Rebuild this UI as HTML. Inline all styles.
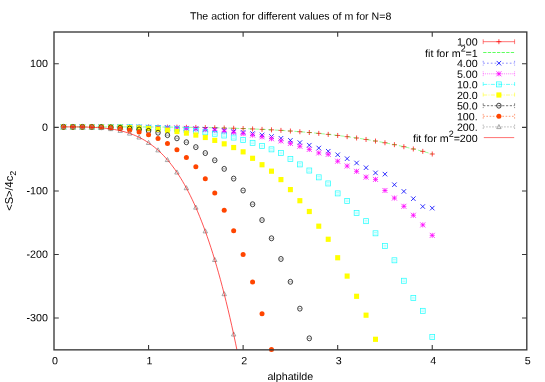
<!DOCTYPE html><html><head><meta charset="utf-8"><title>plot</title><style>
html,body{margin:0;padding:0;background:#fff;}svg{display:block}text{font-family:"Liberation Sans",sans-serif;font-size:10.7px;fill:#000}
</style></head><body>
<svg width="545" height="382" viewBox="0 0 545 382" style="will-change:transform">
<rect width="545" height="382" fill="#fff"/>
<defs>
<clipPath id="cp"><rect x="54.0" y="32.0" width="472.79999999999995" height="317.85"/></clipPath>
</defs>
<text transform="translate(290.60,19.60) rotate(0.03) scale(1,0.98)" text-anchor="middle" style="font-size:10.63px">The action for different values of m for N=8</text>
<text transform="translate(290.30,380.10) rotate(0.03) scale(1,0.98)" text-anchor="middle">alphatilde</text>
<text transform="translate(13.0,190.8) rotate(-90) scale(1.037,1)" text-anchor="middle">&lt;S&gt;/4c<tspan dy="3" style="font-size:8.6px">2</tspan></text>
<text transform="translate(47.90,67.08) rotate(0.03) scale(1,0.98)" text-anchor="end">100</text>
<text transform="translate(47.90,130.66) rotate(0.03) scale(1,0.98)" text-anchor="end">0</text>
<text transform="translate(47.90,194.23) rotate(0.03) scale(1,0.98)" text-anchor="end">-100</text>
<text transform="translate(47.90,257.80) rotate(0.03) scale(1,0.98)" text-anchor="end">-200</text>
<text transform="translate(47.90,321.37) rotate(0.03) scale(1,0.98)" text-anchor="end">-300</text>
<text transform="translate(55.00,364.20) rotate(0.03) scale(1,0.98)" text-anchor="middle">0</text>
<text transform="translate(149.56,364.20) rotate(0.03) scale(1,0.98)" text-anchor="middle">1</text>
<text transform="translate(244.12,364.20) rotate(0.03) scale(1,0.98)" text-anchor="middle">2</text>
<text transform="translate(338.68,364.20) rotate(0.03) scale(1,0.98)" text-anchor="middle">3</text>
<text transform="translate(433.24,364.20) rotate(0.03) scale(1,0.98)" text-anchor="middle">4</text>
<text transform="translate(527.80,364.20) rotate(0.03) scale(1,0.98)" text-anchor="middle">5</text>
<g>
<path d="M60.96 126.88H65.96M63.46 124.38V129.38" stroke="#ff0000" stroke-width="0.9" fill="none" stroke-opacity="0.8"/>
<path d="M70.41 126.88H75.41M72.91 124.38V129.38" stroke="#ff0000" stroke-width="0.9" fill="none" stroke-opacity="0.8"/>
<path d="M79.87 126.88H84.87M82.37 124.38V129.38" stroke="#ff0000" stroke-width="0.9" fill="none" stroke-opacity="0.8"/>
<path d="M89.32 126.88H94.32M91.82 124.38V129.38" stroke="#ff0000" stroke-width="0.9" fill="none" stroke-opacity="0.8"/>
<path d="M98.78 126.88H103.78M101.28 124.38V129.38" stroke="#ff0000" stroke-width="0.9" fill="none" stroke-opacity="0.8"/>
<path d="M108.24 126.89H113.24M110.74 124.39V129.39" stroke="#ff0000" stroke-width="0.9" fill="none" stroke-opacity="0.8"/>
<path d="M117.69 126.90H122.69M120.19 124.40V129.40" stroke="#ff0000" stroke-width="0.9" fill="none" stroke-opacity="0.8"/>
<path d="M127.15 126.92H132.15M129.65 124.42V129.42" stroke="#ff0000" stroke-width="0.9" fill="none" stroke-opacity="0.8"/>
<path d="M136.60 126.95H141.60M139.10 124.45V129.45" stroke="#ff0000" stroke-width="0.9" fill="none" stroke-opacity="0.8"/>
<path d="M146.06 126.98H151.06M148.56 124.48V129.48" stroke="#ff0000" stroke-width="0.9" fill="none" stroke-opacity="0.8"/>
<path d="M155.52 127.03H160.52M158.02 124.53V129.53" stroke="#ff0000" stroke-width="0.9" fill="none" stroke-opacity="0.8"/>
<path d="M164.97 127.10H169.97M167.47 124.60V129.60" stroke="#ff0000" stroke-width="0.9" fill="none" stroke-opacity="0.8"/>
<path d="M174.43 127.18H179.43M176.93 124.68V129.68" stroke="#ff0000" stroke-width="0.9" fill="none" stroke-opacity="0.8"/>
<path d="M183.88 127.29H188.88M186.38 124.79V129.79" stroke="#ff0000" stroke-width="0.9" fill="none" stroke-opacity="0.8"/>
<path d="M193.34 127.41H198.34M195.84 124.91V129.91" stroke="#ff0000" stroke-width="0.9" fill="none" stroke-opacity="0.8"/>
<path d="M202.80 127.57H207.80M205.30 125.07V130.07" stroke="#ff0000" stroke-width="0.9" fill="none" stroke-opacity="0.8"/>
<path d="M212.25 127.76H217.25M214.75 125.26V130.26" stroke="#ff0000" stroke-width="0.9" fill="none" stroke-opacity="0.8"/>
<path d="M221.71 127.99H226.71M224.21 125.49V130.49" stroke="#ff0000" stroke-width="0.9" fill="none" stroke-opacity="0.8"/>
<path d="M231.16 128.26H236.16M233.66 125.76V130.76" stroke="#ff0000" stroke-width="0.9" fill="none" stroke-opacity="0.8"/>
<path d="M240.62 128.57H245.62M243.12 126.07V131.07" stroke="#ff0000" stroke-width="0.9" fill="none" stroke-opacity="0.8"/>
<path d="M250.08 128.94H255.08M252.58 126.44V131.44" stroke="#ff0000" stroke-width="0.9" fill="none" stroke-opacity="0.8"/>
<path d="M259.53 129.36H264.53M262.03 126.86V131.86" stroke="#ff0000" stroke-width="0.9" fill="none" stroke-opacity="0.8"/>
<path d="M268.99 129.84H273.99M271.49 127.34V132.34" stroke="#ff0000" stroke-width="0.9" fill="none" stroke-opacity="0.8"/>
<path d="M278.44 130.39H283.44M280.94 127.89V132.89" stroke="#ff0000" stroke-width="0.9" fill="none" stroke-opacity="0.8"/>
<path d="M287.90 131.02H292.90M290.40 128.52V133.52" stroke="#ff0000" stroke-width="0.9" fill="none" stroke-opacity="0.8"/>
<path d="M297.36 131.72H302.36M299.86 129.22V134.22" stroke="#ff0000" stroke-width="0.9" fill="none" stroke-opacity="0.8"/>
<path d="M306.81 132.51H311.81M309.31 130.01V135.01" stroke="#ff0000" stroke-width="0.9" fill="none" stroke-opacity="0.8"/>
<path d="M316.27 133.39H321.27M318.77 130.89V135.89" stroke="#ff0000" stroke-width="0.9" fill="none" stroke-opacity="0.8"/>
<path d="M325.72 134.37H330.72M328.22 131.87V136.87" stroke="#ff0000" stroke-width="0.9" fill="none" stroke-opacity="0.8"/>
<path d="M335.18 135.46H340.18M337.68 132.96V137.96" stroke="#ff0000" stroke-width="0.9" fill="none" stroke-opacity="0.8"/>
<path d="M344.64 136.66H349.64M347.14 134.16V139.16" stroke="#ff0000" stroke-width="0.9" fill="none" stroke-opacity="0.8"/>
<path d="M354.09 137.99H359.09M356.59 135.49V140.49" stroke="#ff0000" stroke-width="0.9" fill="none" stroke-opacity="0.8"/>
<path d="M363.55 139.44H368.55M366.05 136.94V141.94" stroke="#ff0000" stroke-width="0.9" fill="none" stroke-opacity="0.8"/>
<path d="M373.00 141.04H378.00M375.50 138.54V143.54" stroke="#ff0000" stroke-width="0.9" fill="none" stroke-opacity="0.8"/>
<path d="M382.46 142.78H387.46M384.96 140.28V145.28" stroke="#ff0000" stroke-width="0.9" fill="none" stroke-opacity="0.8"/>
<path d="M391.92 144.67H396.92M394.42 142.17V147.17" stroke="#ff0000" stroke-width="0.9" fill="none" stroke-opacity="0.8"/>
<path d="M401.37 146.73H406.37M403.87 144.23V149.23" stroke="#ff0000" stroke-width="0.9" fill="none" stroke-opacity="0.8"/>
<path d="M410.83 148.97H415.83M413.33 146.47V151.47" stroke="#ff0000" stroke-width="0.9" fill="none" stroke-opacity="0.8"/>
<path d="M420.28 151.39H425.28M422.78 148.89V153.89" stroke="#ff0000" stroke-width="0.9" fill="none" stroke-opacity="0.8"/>
<path d="M429.74 154.00H434.74M432.24 151.50V156.50" stroke="#ff0000" stroke-width="0.9" fill="none" stroke-opacity="0.8"/>
<path clip-path="url(#cp)" d="M63.46 126.88L65.35 126.88L67.24 126.88L69.13 126.88L71.02 126.88L72.91 126.88L74.80 126.88L76.69 126.88L78.59 126.88L80.48 126.88L82.37 126.88L84.26 126.88L86.15 126.88L88.04 126.88L89.93 126.88L91.82 126.88L93.72 126.88L95.61 126.88L97.50 126.88L99.39 126.88L101.28 126.88L103.17 126.89L105.06 126.89L106.95 126.89L108.84 126.89L110.74 126.89L112.63 126.89L114.52 126.90L116.41 126.90L118.30 126.90L120.19 126.90L122.08 126.91L123.97 126.91L125.87 126.91L127.76 126.92L129.65 126.92L131.54 126.93L133.43 126.93L135.32 126.94L137.21 126.94L139.10 126.95L141.00 126.95L142.89 126.96L144.78 126.97L146.67 126.98L148.56 126.98L150.45 126.99L152.34 127.00L154.23 127.01L156.12 127.02L158.02 127.03L159.91 127.04L161.80 127.06L163.69 127.07L165.58 127.08L167.47 127.10L169.36 127.11L171.25 127.13L173.15 127.15L175.04 127.16L176.93 127.18L178.82 127.20L180.71 127.22L182.60 127.24L184.49 127.26L186.38 127.29L188.28 127.31L190.17 127.33L192.06 127.36L193.95 127.39L195.84 127.41L197.73 127.44L199.62 127.47L201.51 127.51L203.40 127.54L205.30 127.57L207.19 127.61L209.08 127.64L210.97 127.68L212.86 127.72L214.75 127.76L216.64 127.81L218.53 127.85L220.43 127.89L222.32 127.94L224.21 127.99L226.10 128.04L227.99 128.09L229.88 128.15L231.77 128.20L233.66 128.26L235.56 128.32L237.45 128.38L239.34 128.44L241.23 128.51L243.12 128.57L245.01 128.64L246.90 128.71L248.79 128.79L250.68 128.86L252.58 128.94L254.47 129.02L256.36 129.10L258.25 129.18L260.14 129.27L262.03 129.36L263.92 129.45L265.81 129.55L267.71 129.64L269.60 129.74L271.49 129.84L273.38 129.95L275.27 130.05L277.16 130.16L279.05 130.28L280.94 130.39L282.84 130.51L284.73 130.63L286.62 130.76L288.51 130.89L290.40 131.02L292.29 131.15L294.18 131.29L296.07 131.43L297.96 131.57L299.86 131.72L301.75 131.87L303.64 132.02L305.53 132.18L307.42 132.34L309.31 132.51L311.20 132.68L313.09 132.85L314.99 133.03L316.88 133.21L318.77 133.39L320.66 133.58L322.55 133.77L324.44 133.97L326.33 134.17L328.22 134.37L330.12 134.58L332.01 134.79L333.90 135.01L335.79 135.23L337.68 135.46L339.57 135.69L341.46 135.93L343.35 136.17L345.24 136.41L347.14 136.66L349.03 136.92L350.92 137.18L352.81 137.44L354.70 137.71L356.59 137.99L358.48 138.27L360.37 138.55L362.27 138.84L364.16 139.14L366.05 139.44L367.94 139.75L369.83 140.06L371.72 140.38L373.61 140.71L375.50 141.04L377.40 141.37L379.29 141.71L381.18 142.06L383.07 142.42L384.96 142.78L386.85 143.14L388.74 143.52L390.63 143.90L392.52 144.28L394.42 144.67L396.31 145.07L398.20 145.48L400.09 145.89L401.98 146.31L403.87 146.73L405.76 147.17L407.65 147.61L409.55 148.05L411.44 148.51L413.33 148.97L415.22 149.44L417.11 149.92L419.00 150.40L420.89 150.89L422.78 151.39L424.68 151.90L426.57 152.41L428.46 152.93L430.35 153.46L432.24 154.00" stroke="#00ff00" stroke-width="0.85" fill="none" stroke-dasharray="4.2 2.4" stroke-opacity="0.5"/>
<path d="M61.21 124.63L65.71 129.13M61.21 129.13L65.71 124.63" stroke="#0000ff" stroke-width="0.98" fill="none" stroke-opacity="0.82"/>
<path d="M70.66 124.63L75.16 129.13M70.66 129.13L75.16 124.63" stroke="#0000ff" stroke-width="0.98" fill="none" stroke-opacity="0.82"/>
<path d="M80.12 124.63L84.62 129.13M80.12 129.13L84.62 124.63" stroke="#0000ff" stroke-width="0.98" fill="none" stroke-opacity="0.82"/>
<path d="M89.57 124.64L94.07 129.14M89.57 129.14L94.07 124.64" stroke="#0000ff" stroke-width="0.98" fill="none" stroke-opacity="0.82"/>
<path d="M99.03 124.65L103.53 129.15M99.03 129.15L103.53 124.65" stroke="#0000ff" stroke-width="0.98" fill="none" stroke-opacity="0.82"/>
<path d="M108.49 124.67L112.99 129.17M108.49 129.17L112.99 124.67" stroke="#0000ff" stroke-width="0.98" fill="none" stroke-opacity="0.82"/>
<path d="M117.94 124.71L122.44 129.21M117.94 129.21L122.44 124.71" stroke="#0000ff" stroke-width="0.98" fill="none" stroke-opacity="0.82"/>
<path d="M127.40 124.77L131.90 129.27M127.40 129.27L131.90 124.77" stroke="#0000ff" stroke-width="0.98" fill="none" stroke-opacity="0.82"/>
<path d="M136.85 124.85L141.35 129.35M136.85 129.35L141.35 124.85" stroke="#0000ff" stroke-width="0.98" fill="none" stroke-opacity="0.82"/>
<path d="M146.31 124.97L150.81 129.47M146.31 129.47L150.81 124.97" stroke="#0000ff" stroke-width="0.98" fill="none" stroke-opacity="0.82"/>
<path d="M155.77 125.13L160.27 129.63M155.77 129.63L160.27 125.13" stroke="#0000ff" stroke-width="0.98" fill="none" stroke-opacity="0.82"/>
<path d="M165.22 125.34L169.72 129.84M165.22 129.84L169.72 125.34" stroke="#0000ff" stroke-width="0.98" fill="none" stroke-opacity="0.82"/>
<path d="M174.68 125.61L179.18 130.11M174.68 130.11L179.18 125.61" stroke="#0000ff" stroke-width="0.98" fill="none" stroke-opacity="0.82"/>
<path d="M184.13 125.95L188.63 130.45M184.13 130.45L188.63 125.95" stroke="#0000ff" stroke-width="0.98" fill="none" stroke-opacity="0.82"/>
<path d="M193.59 126.37L198.09 130.87M193.59 130.87L198.09 126.37" stroke="#0000ff" stroke-width="0.98" fill="none" stroke-opacity="0.82"/>
<path d="M203.05 126.88L207.55 131.38M203.05 131.38L207.55 126.88" stroke="#0000ff" stroke-width="0.98" fill="none" stroke-opacity="0.82"/>
<path d="M212.50 127.50L217.00 132.00M212.50 132.00L217.00 127.50" stroke="#0000ff" stroke-width="0.98" fill="none" stroke-opacity="0.82"/>
<path d="M221.96 128.24L226.46 132.74M221.96 132.74L226.46 128.24" stroke="#0000ff" stroke-width="0.98" fill="none" stroke-opacity="0.82"/>
<path d="M231.41 129.12L235.91 133.62M231.41 133.62L235.91 129.12" stroke="#0000ff" stroke-width="0.98" fill="none" stroke-opacity="0.82"/>
<path d="M240.87 130.14L245.37 134.64M240.87 134.64L245.37 130.14" stroke="#0000ff" stroke-width="0.98" fill="none" stroke-opacity="0.82"/>
<path d="M250.33 131.32L254.83 135.82M250.33 135.82L254.83 131.32" stroke="#0000ff" stroke-width="0.98" fill="none" stroke-opacity="0.82"/>
<path d="M259.78 132.69L264.28 137.19M259.78 137.19L264.28 132.69" stroke="#0000ff" stroke-width="0.98" fill="none" stroke-opacity="0.82"/>
<path d="M269.24 134.26L273.74 138.76M269.24 138.76L273.74 134.26" stroke="#0000ff" stroke-width="0.98" fill="none" stroke-opacity="0.82"/>
<path d="M278.69 136.05L283.19 140.55M278.69 140.55L283.19 136.05" stroke="#0000ff" stroke-width="0.98" fill="none" stroke-opacity="0.82"/>
<path d="M288.15 138.08L292.65 142.58M288.15 142.58L292.65 138.08" stroke="#0000ff" stroke-width="0.98" fill="none" stroke-opacity="0.82"/>
<path d="M297.61 140.36L302.11 144.86M297.61 144.86L302.11 140.36" stroke="#0000ff" stroke-width="0.98" fill="none" stroke-opacity="0.82"/>
<path d="M307.06 142.93L311.56 147.43M307.06 147.43L311.56 142.93" stroke="#0000ff" stroke-width="0.98" fill="none" stroke-opacity="0.82"/>
<path d="M316.52 145.79L321.02 150.29M316.52 150.29L321.02 145.79" stroke="#0000ff" stroke-width="0.98" fill="none" stroke-opacity="0.82"/>
<path d="M325.97 148.98L330.47 153.48M325.97 153.48L330.47 148.98" stroke="#0000ff" stroke-width="0.98" fill="none" stroke-opacity="0.82"/>
<path d="M335.43 152.52L339.93 157.02M335.43 157.02L339.93 152.52" stroke="#0000ff" stroke-width="0.98" fill="none" stroke-opacity="0.82"/>
<path d="M344.89 156.43L349.39 160.93M344.89 160.93L349.39 156.43" stroke="#0000ff" stroke-width="0.98" fill="none" stroke-opacity="0.82"/>
<path d="M354.34 160.73L358.84 165.23M354.34 165.23L358.84 160.73" stroke="#0000ff" stroke-width="0.98" fill="none" stroke-opacity="0.82"/>
<path d="M363.80 165.46L368.30 169.96M363.80 169.96L368.30 165.46" stroke="#0000ff" stroke-width="0.98" fill="none" stroke-opacity="0.82"/>
<path d="M373.25 170.64L377.75 175.14M373.25 175.14L377.75 170.64" stroke="#0000ff" stroke-width="0.98" fill="none" stroke-opacity="0.82"/>
<path d="M382.71 171.90L387.21 176.40M382.71 176.40L387.21 171.90" stroke="#0000ff" stroke-width="0.98" fill="none" stroke-opacity="0.82"/>
<path d="M392.17 182.46L396.67 186.96M392.17 186.96L396.67 182.46" stroke="#0000ff" stroke-width="0.98" fill="none" stroke-opacity="0.82"/>
<path d="M401.62 189.16L406.12 193.66M401.62 193.66L406.12 189.16" stroke="#0000ff" stroke-width="0.98" fill="none" stroke-opacity="0.82"/>
<path d="M411.08 196.43L415.58 200.93M411.08 200.93L415.58 196.43" stroke="#0000ff" stroke-width="0.98" fill="none" stroke-opacity="0.82"/>
<path d="M420.53 204.29L425.03 208.79M420.53 208.79L425.03 204.29" stroke="#0000ff" stroke-width="0.98" fill="none" stroke-opacity="0.82"/>
<path d="M429.99 205.88L434.49 210.38M429.99 210.38L434.49 205.88" stroke="#0000ff" stroke-width="0.98" fill="none" stroke-opacity="0.82"/>
<path d="M60.96 124.38L65.96 129.38M60.96 129.38L65.96 124.38M60.96 126.88H65.96M63.46 124.38V129.38" stroke="#ff00ff" stroke-width="0.9" fill="none" stroke-opacity="0.85"/>
<path d="M70.41 124.38L75.41 129.38M70.41 129.38L75.41 124.38M70.41 126.88H75.41M72.91 124.38V129.38" stroke="#ff00ff" stroke-width="0.9" fill="none" stroke-opacity="0.85"/>
<path d="M79.87 124.38L84.87 129.38M79.87 129.38L84.87 124.38M79.87 126.88H84.87M82.37 124.38V129.38" stroke="#ff00ff" stroke-width="0.9" fill="none" stroke-opacity="0.85"/>
<path d="M89.32 124.39L94.32 129.39M89.32 129.39L94.32 124.39M89.32 126.89H94.32M91.82 124.39V129.39" stroke="#ff00ff" stroke-width="0.9" fill="none" stroke-opacity="0.85"/>
<path d="M98.78 124.40L103.78 129.40M98.78 129.40L103.78 124.40M98.78 126.90H103.78M101.28 124.40V129.40" stroke="#ff00ff" stroke-width="0.9" fill="none" stroke-opacity="0.85"/>
<path d="M108.24 124.43L113.24 129.43M108.24 129.43L113.24 124.43M108.24 126.93H113.24M110.74 124.43V129.43" stroke="#ff00ff" stroke-width="0.9" fill="none" stroke-opacity="0.85"/>
<path d="M117.69 124.48L122.69 129.48M117.69 129.48L122.69 124.48M117.69 126.98H122.69M120.19 124.48V129.48" stroke="#ff00ff" stroke-width="0.9" fill="none" stroke-opacity="0.85"/>
<path d="M127.15 124.55L132.15 129.55M127.15 129.55L132.15 124.55M127.15 127.05H132.15M129.65 124.55V129.55" stroke="#ff00ff" stroke-width="0.9" fill="none" stroke-opacity="0.85"/>
<path d="M136.60 124.66L141.60 129.66M136.60 129.66L141.60 124.66M136.60 127.16H141.60M139.10 124.66V129.66" stroke="#ff00ff" stroke-width="0.9" fill="none" stroke-opacity="0.85"/>
<path d="M146.06 124.80L151.06 129.80M146.06 129.80L151.06 124.80M146.06 127.30H151.06M148.56 124.80V129.80" stroke="#ff00ff" stroke-width="0.9" fill="none" stroke-opacity="0.85"/>
<path d="M155.52 125.00L160.52 130.00M155.52 130.00L160.52 125.00M155.52 127.50H160.52M158.02 125.00V130.00" stroke="#ff00ff" stroke-width="0.9" fill="none" stroke-opacity="0.85"/>
<path d="M164.97 125.26L169.97 130.26M164.97 130.26L169.97 125.26M164.97 127.76H169.97M167.47 125.26V130.26" stroke="#ff00ff" stroke-width="0.9" fill="none" stroke-opacity="0.85"/>
<path d="M174.43 125.59L179.43 130.59M174.43 130.59L179.43 125.59M174.43 128.09H179.43M176.93 125.59V130.59" stroke="#ff00ff" stroke-width="0.9" fill="none" stroke-opacity="0.85"/>
<path d="M183.88 126.01L188.88 131.01M183.88 131.01L188.88 126.01M183.88 128.51H188.88M186.38 126.01V131.01" stroke="#ff00ff" stroke-width="0.9" fill="none" stroke-opacity="0.85"/>
<path d="M193.34 126.52L198.34 131.52M193.34 131.52L198.34 126.52M193.34 129.02H198.34M195.84 126.52V131.52" stroke="#ff00ff" stroke-width="0.9" fill="none" stroke-opacity="0.85"/>
<path d="M202.80 127.16L207.80 132.16M202.80 132.16L207.80 127.16M202.80 129.66H207.80M205.30 127.16V132.16" stroke="#ff00ff" stroke-width="0.9" fill="none" stroke-opacity="0.85"/>
<path d="M212.25 127.92L217.25 132.92M212.25 132.92L217.25 127.92M212.25 130.42H217.25M214.75 127.92V132.92" stroke="#ff00ff" stroke-width="0.9" fill="none" stroke-opacity="0.85"/>
<path d="M221.71 128.83L226.71 133.83M221.71 133.83L226.71 128.83M221.71 131.33H226.71M224.21 128.83V133.83" stroke="#ff00ff" stroke-width="0.9" fill="none" stroke-opacity="0.85"/>
<path d="M231.16 129.90L236.16 134.90M231.16 134.90L236.16 129.90M231.16 132.40H236.16M233.66 129.90V134.90" stroke="#ff00ff" stroke-width="0.9" fill="none" stroke-opacity="0.85"/>
<path d="M240.62 131.16L245.62 136.16M240.62 136.16L245.62 131.16M240.62 133.66H245.62M243.12 131.16V136.16" stroke="#ff00ff" stroke-width="0.9" fill="none" stroke-opacity="0.85"/>
<path d="M250.08 132.62L255.08 137.62M250.08 137.62L255.08 132.62M250.08 135.12H255.08M252.58 132.62V137.62" stroke="#ff00ff" stroke-width="0.9" fill="none" stroke-opacity="0.85"/>
<path d="M259.53 134.31L264.53 139.31M259.53 139.31L264.53 134.31M259.53 136.81H264.53M262.03 134.31V139.31" stroke="#ff00ff" stroke-width="0.9" fill="none" stroke-opacity="0.85"/>
<path d="M268.99 136.24L273.99 141.24M268.99 141.24L273.99 136.24M268.99 138.74H273.99M271.49 136.24V141.24" stroke="#ff00ff" stroke-width="0.9" fill="none" stroke-opacity="0.85"/>
<path d="M278.44 138.44L283.44 143.44M278.44 143.44L283.44 138.44M278.44 140.94H283.44M280.94 138.44V143.44" stroke="#ff00ff" stroke-width="0.9" fill="none" stroke-opacity="0.85"/>
<path d="M287.90 140.93L292.90 145.93M287.90 145.93L292.90 140.93M287.90 143.43H292.90M290.40 140.93V145.93" stroke="#ff00ff" stroke-width="0.9" fill="none" stroke-opacity="0.85"/>
<path d="M297.36 143.74L302.36 148.74M297.36 148.74L302.36 143.74M297.36 146.24H302.36M299.86 143.74V148.74" stroke="#ff00ff" stroke-width="0.9" fill="none" stroke-opacity="0.85"/>
<path d="M306.81 146.90L311.81 151.90M306.81 151.90L311.81 146.90M306.81 149.40H311.81M309.31 146.90V151.90" stroke="#ff00ff" stroke-width="0.9" fill="none" stroke-opacity="0.85"/>
<path d="M316.27 150.43L321.27 155.43M316.27 155.43L321.27 150.43M316.27 152.93H321.27M318.77 150.43V155.43" stroke="#ff00ff" stroke-width="0.9" fill="none" stroke-opacity="0.85"/>
<path d="M325.72 151.85L330.72 156.85M325.72 156.85L330.72 151.85M325.72 154.35H330.72M328.22 151.85V156.85" stroke="#ff00ff" stroke-width="0.9" fill="none" stroke-opacity="0.85"/>
<path d="M335.18 158.71L340.18 163.71M335.18 163.71L340.18 158.71M335.18 161.21H340.18M337.68 158.71V163.71" stroke="#ff00ff" stroke-width="0.9" fill="none" stroke-opacity="0.85"/>
<path d="M344.64 163.52L349.64 168.52M344.64 168.52L349.64 163.52M344.64 166.02H349.64M347.14 163.52V168.52" stroke="#ff00ff" stroke-width="0.9" fill="none" stroke-opacity="0.85"/>
<path d="M354.09 168.82L359.09 173.82M354.09 173.82L359.09 168.82M354.09 171.32H359.09M356.59 168.82V173.82" stroke="#ff00ff" stroke-width="0.9" fill="none" stroke-opacity="0.85"/>
<path d="M363.55 174.64L368.55 179.64M363.55 179.64L368.55 174.64M363.55 177.14H368.55M366.05 174.64V179.64" stroke="#ff00ff" stroke-width="0.9" fill="none" stroke-opacity="0.85"/>
<path d="M373.00 176.91L378.00 181.91M373.00 181.91L378.00 176.91M373.00 179.41H378.00M375.50 176.91V181.91" stroke="#ff00ff" stroke-width="0.9" fill="none" stroke-opacity="0.85"/>
<path d="M382.46 187.97L387.46 192.97M382.46 192.97L387.46 187.97M382.46 190.47H387.46M384.96 187.97V192.97" stroke="#ff00ff" stroke-width="0.9" fill="none" stroke-opacity="0.85"/>
<path d="M391.92 195.56L396.92 200.56M391.92 200.56L396.92 195.56M391.92 198.06H396.92M394.42 195.56V200.56" stroke="#ff00ff" stroke-width="0.9" fill="none" stroke-opacity="0.85"/>
<path d="M401.37 203.81L406.37 208.81M401.37 208.81L406.37 203.81M401.37 206.31H406.37M403.87 203.81V208.81" stroke="#ff00ff" stroke-width="0.9" fill="none" stroke-opacity="0.85"/>
<path d="M410.83 212.75L415.83 217.75M410.83 217.75L415.83 212.75M410.83 215.25H415.83M413.33 212.75V217.75" stroke="#ff00ff" stroke-width="0.9" fill="none" stroke-opacity="0.85"/>
<path d="M420.28 222.42L425.28 227.42M420.28 227.42L425.28 222.42M420.28 224.92H425.28M422.78 222.42V227.42" stroke="#ff00ff" stroke-width="0.9" fill="none" stroke-opacity="0.85"/>
<path d="M429.74 232.87L434.74 237.87M429.74 237.87L434.74 232.87M429.74 235.37H434.74M432.24 232.87V237.87" stroke="#ff00ff" stroke-width="0.9" fill="none" stroke-opacity="0.85"/>
<rect x="61.06" y="124.38" width="4.8" height="5" stroke="#00ffff" stroke-width="0.75" fill="none" stroke-opacity="0.85"/><path d="M61.96 126.08h3M61.96 127.68h3" stroke="#00ffff" stroke-width="0.45" stroke-opacity="0.7"/>
<rect x="70.51" y="124.38" width="4.8" height="5" stroke="#00ffff" stroke-width="0.75" fill="none" stroke-opacity="0.85"/><path d="M71.41 126.08h3M71.41 127.68h3" stroke="#00ffff" stroke-width="0.45" stroke-opacity="0.7"/>
<rect x="79.97" y="124.38" width="4.8" height="5" stroke="#00ffff" stroke-width="0.75" fill="none" stroke-opacity="0.85"/><path d="M80.87 126.08h3M80.87 127.68h3" stroke="#00ffff" stroke-width="0.45" stroke-opacity="0.7"/>
<rect x="89.42" y="124.40" width="4.8" height="5" stroke="#00ffff" stroke-width="0.75" fill="none" stroke-opacity="0.85"/><path d="M90.32 126.10h3M90.32 127.70h3" stroke="#00ffff" stroke-width="0.45" stroke-opacity="0.7"/>
<rect x="98.88" y="124.43" width="4.8" height="5" stroke="#00ffff" stroke-width="0.75" fill="none" stroke-opacity="0.85"/><path d="M99.78 126.13h3M99.78 127.73h3" stroke="#00ffff" stroke-width="0.45" stroke-opacity="0.7"/>
<rect x="108.34" y="124.48" width="4.8" height="5" stroke="#00ffff" stroke-width="0.75" fill="none" stroke-opacity="0.85"/><path d="M109.24 126.18h3M109.24 127.78h3" stroke="#00ffff" stroke-width="0.45" stroke-opacity="0.7"/>
<rect x="117.79" y="124.58" width="4.8" height="5" stroke="#00ffff" stroke-width="0.75" fill="none" stroke-opacity="0.85"/><path d="M118.69 126.28h3M118.69 127.88h3" stroke="#00ffff" stroke-width="0.45" stroke-opacity="0.7"/>
<rect x="127.25" y="124.71" width="4.8" height="5" stroke="#00ffff" stroke-width="0.75" fill="none" stroke-opacity="0.85"/><path d="M128.15 126.41h3M128.15 128.01h3" stroke="#00ffff" stroke-width="0.45" stroke-opacity="0.7"/>
<rect x="136.70" y="124.92" width="4.8" height="5" stroke="#00ffff" stroke-width="0.75" fill="none" stroke-opacity="0.85"/><path d="M137.60 126.62h3M137.60 128.22h3" stroke="#00ffff" stroke-width="0.45" stroke-opacity="0.7"/>
<rect x="146.16" y="125.20" width="4.8" height="5" stroke="#00ffff" stroke-width="0.75" fill="none" stroke-opacity="0.85"/><path d="M147.06 126.90h3M147.06 128.50h3" stroke="#00ffff" stroke-width="0.45" stroke-opacity="0.7"/>
<rect x="155.62" y="125.58" width="4.8" height="5" stroke="#00ffff" stroke-width="0.75" fill="none" stroke-opacity="0.85"/><path d="M156.52 127.28h3M156.52 128.88h3" stroke="#00ffff" stroke-width="0.45" stroke-opacity="0.7"/>
<rect x="165.07" y="126.08" width="4.8" height="5" stroke="#00ffff" stroke-width="0.75" fill="none" stroke-opacity="0.85"/><path d="M165.97 127.78h3M165.97 129.38h3" stroke="#00ffff" stroke-width="0.45" stroke-opacity="0.7"/>
<rect x="174.53" y="126.72" width="4.8" height="5" stroke="#00ffff" stroke-width="0.75" fill="none" stroke-opacity="0.85"/><path d="M175.43 128.42h3M175.43 130.02h3" stroke="#00ffff" stroke-width="0.45" stroke-opacity="0.7"/>
<rect x="183.98" y="127.53" width="4.8" height="5" stroke="#00ffff" stroke-width="0.75" fill="none" stroke-opacity="0.85"/><path d="M184.88 129.23h3M184.88 130.83h3" stroke="#00ffff" stroke-width="0.45" stroke-opacity="0.7"/>
<rect x="193.44" y="128.54" width="4.8" height="5" stroke="#00ffff" stroke-width="0.75" fill="none" stroke-opacity="0.85"/><path d="M194.34 130.24h3M194.34 131.84h3" stroke="#00ffff" stroke-width="0.45" stroke-opacity="0.7"/>
<rect x="202.90" y="129.76" width="4.8" height="5" stroke="#00ffff" stroke-width="0.75" fill="none" stroke-opacity="0.85"/><path d="M203.80 131.46h3M203.80 133.06h3" stroke="#00ffff" stroke-width="0.45" stroke-opacity="0.7"/>
<rect x="212.35" y="131.24" width="4.8" height="5" stroke="#00ffff" stroke-width="0.75" fill="none" stroke-opacity="0.85"/><path d="M213.25 132.94h3M213.25 134.54h3" stroke="#00ffff" stroke-width="0.45" stroke-opacity="0.7"/>
<rect x="221.81" y="133.00" width="4.8" height="5" stroke="#00ffff" stroke-width="0.75" fill="none" stroke-opacity="0.85"/><path d="M222.71 134.70h3M222.71 136.30h3" stroke="#00ffff" stroke-width="0.45" stroke-opacity="0.7"/>
<rect x="231.26" y="135.08" width="4.8" height="5" stroke="#00ffff" stroke-width="0.75" fill="none" stroke-opacity="0.85"/><path d="M232.16 136.78h3M232.16 138.38h3" stroke="#00ffff" stroke-width="0.45" stroke-opacity="0.7"/>
<rect x="240.72" y="137.52" width="4.8" height="5" stroke="#00ffff" stroke-width="0.75" fill="none" stroke-opacity="0.85"/><path d="M241.62 139.22h3M241.62 140.82h3" stroke="#00ffff" stroke-width="0.45" stroke-opacity="0.7"/>
<rect x="250.18" y="140.35" width="4.8" height="5" stroke="#00ffff" stroke-width="0.75" fill="none" stroke-opacity="0.85"/><path d="M251.08 142.05h3M251.08 143.65h3" stroke="#00ffff" stroke-width="0.45" stroke-opacity="0.7"/>
<rect x="259.63" y="143.61" width="4.8" height="5" stroke="#00ffff" stroke-width="0.75" fill="none" stroke-opacity="0.85"/><path d="M260.53 145.31h3M260.53 146.91h3" stroke="#00ffff" stroke-width="0.45" stroke-opacity="0.7"/>
<rect x="269.09" y="146.86" width="4.8" height="5" stroke="#00ffff" stroke-width="0.75" fill="none" stroke-opacity="0.85"/><path d="M269.99 148.56h3M269.99 150.16h3" stroke="#00ffff" stroke-width="0.45" stroke-opacity="0.7"/>
<rect x="278.54" y="150.52" width="4.8" height="5" stroke="#00ffff" stroke-width="0.75" fill="none" stroke-opacity="0.85"/><path d="M279.44 152.22h3M279.44 153.82h3" stroke="#00ffff" stroke-width="0.45" stroke-opacity="0.7"/>
<rect x="288.00" y="156.45" width="4.8" height="5" stroke="#00ffff" stroke-width="0.75" fill="none" stroke-opacity="0.85"/><path d="M288.90 158.15h3M288.90 159.75h3" stroke="#00ffff" stroke-width="0.45" stroke-opacity="0.7"/>
<rect x="297.46" y="161.90" width="4.8" height="5" stroke="#00ffff" stroke-width="0.75" fill="none" stroke-opacity="0.85"/><path d="M298.36 163.60h3M298.36 165.20h3" stroke="#00ffff" stroke-width="0.45" stroke-opacity="0.7"/>
<rect x="306.91" y="168.02" width="4.8" height="5" stroke="#00ffff" stroke-width="0.75" fill="none" stroke-opacity="0.85"/><path d="M307.81 169.72h3M307.81 171.32h3" stroke="#00ffff" stroke-width="0.45" stroke-opacity="0.7"/>
<rect x="316.37" y="174.85" width="4.8" height="5" stroke="#00ffff" stroke-width="0.75" fill="none" stroke-opacity="0.85"/><path d="M317.27 176.55h3M317.27 178.15h3" stroke="#00ffff" stroke-width="0.45" stroke-opacity="0.7"/>
<rect x="325.82" y="180.95" width="4.8" height="5" stroke="#00ffff" stroke-width="0.75" fill="none" stroke-opacity="0.85"/><path d="M326.72 182.65h3M326.72 184.25h3" stroke="#00ffff" stroke-width="0.45" stroke-opacity="0.7"/>
<rect x="335.28" y="190.89" width="4.8" height="5" stroke="#00ffff" stroke-width="0.75" fill="none" stroke-opacity="0.85"/><path d="M336.18 192.59h3M336.18 194.19h3" stroke="#00ffff" stroke-width="0.45" stroke-opacity="0.7"/>
<rect x="344.74" y="198.41" width="4.8" height="5" stroke="#00ffff" stroke-width="0.75" fill="none" stroke-opacity="0.85"/><path d="M345.64 200.11h3M345.64 201.71h3" stroke="#00ffff" stroke-width="0.45" stroke-opacity="0.7"/>
<rect x="354.19" y="210.48" width="4.8" height="5" stroke="#00ffff" stroke-width="0.75" fill="none" stroke-opacity="0.85"/><path d="M355.09 212.18h3M355.09 213.78h3" stroke="#00ffff" stroke-width="0.45" stroke-opacity="0.7"/>
<rect x="363.65" y="218.66" width="4.8" height="5" stroke="#00ffff" stroke-width="0.75" fill="none" stroke-opacity="0.85"/><path d="M364.55 220.36h3M364.55 221.96h3" stroke="#00ffff" stroke-width="0.45" stroke-opacity="0.7"/>
<rect x="373.10" y="230.81" width="4.8" height="5" stroke="#00ffff" stroke-width="0.75" fill="none" stroke-opacity="0.85"/><path d="M374.00 232.51h3M374.00 234.11h3" stroke="#00ffff" stroke-width="0.45" stroke-opacity="0.7"/>
<rect x="382.56" y="243.60" width="4.8" height="5" stroke="#00ffff" stroke-width="0.75" fill="none" stroke-opacity="0.85"/><path d="M383.46 245.30h3M383.46 246.90h3" stroke="#00ffff" stroke-width="0.45" stroke-opacity="0.7"/>
<rect x="392.02" y="257.79" width="4.8" height="5" stroke="#00ffff" stroke-width="0.75" fill="none" stroke-opacity="0.85"/><path d="M392.92 259.49h3M392.92 261.09h3" stroke="#00ffff" stroke-width="0.45" stroke-opacity="0.7"/>
<rect x="401.47" y="278.27" width="4.8" height="5" stroke="#00ffff" stroke-width="0.75" fill="none" stroke-opacity="0.85"/><path d="M402.37 279.97h3M402.37 281.57h3" stroke="#00ffff" stroke-width="0.45" stroke-opacity="0.7"/>
<rect x="410.93" y="295.59" width="4.8" height="5" stroke="#00ffff" stroke-width="0.75" fill="none" stroke-opacity="0.85"/><path d="M411.83 297.29h3M411.83 298.89h3" stroke="#00ffff" stroke-width="0.45" stroke-opacity="0.7"/>
<rect x="420.38" y="308.34" width="4.8" height="5" stroke="#00ffff" stroke-width="0.75" fill="none" stroke-opacity="0.85"/><path d="M421.28 310.04h3M421.28 311.64h3" stroke="#00ffff" stroke-width="0.45" stroke-opacity="0.7"/>
<rect x="429.84" y="334.58" width="4.8" height="5" stroke="#00ffff" stroke-width="0.75" fill="none" stroke-opacity="0.85"/><path d="M430.74 336.28h3M430.74 337.88h3" stroke="#00ffff" stroke-width="0.45" stroke-opacity="0.7"/>
<rect x="60.96" y="124.28" width="5" height="5.2" fill="#ffff00"/>
<rect x="70.41" y="124.28" width="5" height="5.2" fill="#ffff00"/>
<rect x="79.87" y="124.29" width="5" height="5.2" fill="#ffff00"/>
<rect x="89.32" y="124.32" width="5" height="5.2" fill="#ffff00"/>
<rect x="98.78" y="124.38" width="5" height="5.2" fill="#ffff00"/>
<rect x="108.24" y="124.49" width="5" height="5.2" fill="#ffff00"/>
<rect x="117.69" y="124.67" width="5" height="5.2" fill="#ffff00"/>
<rect x="127.15" y="124.94" width="5" height="5.2" fill="#ffff00"/>
<rect x="136.60" y="125.34" width="5" height="5.2" fill="#ffff00"/>
<rect x="146.06" y="125.89" width="5" height="5.2" fill="#ffff00"/>
<rect x="155.52" y="126.64" width="5" height="5.2" fill="#ffff00"/>
<rect x="164.97" y="127.63" width="5" height="5.2" fill="#ffff00"/>
<rect x="174.43" y="128.89" width="5" height="5.2" fill="#ffff00"/>
<rect x="183.88" y="130.49" width="5" height="5.2" fill="#ffff00"/>
<rect x="193.34" y="132.46" width="5" height="5.2" fill="#ffff00"/>
<rect x="202.80" y="134.87" width="5" height="5.2" fill="#ffff00"/>
<rect x="212.25" y="137.77" width="5" height="5.2" fill="#ffff00"/>
<rect x="221.71" y="141.24" width="5" height="5.2" fill="#ffff00"/>
<rect x="231.16" y="144.93" width="5" height="5.2" fill="#ffff00"/>
<rect x="240.62" y="149.23" width="5" height="5.2" fill="#ffff00"/>
<rect x="250.08" y="155.70" width="5" height="5.2" fill="#ffff00"/>
<rect x="259.53" y="162.13" width="5" height="5.2" fill="#ffff00"/>
<rect x="268.99" y="168.59" width="5" height="5.2" fill="#ffff00"/>
<rect x="278.44" y="176.98" width="5" height="5.2" fill="#ffff00"/>
<rect x="287.90" y="186.99" width="5" height="5.2" fill="#ffff00"/>
<rect x="297.36" y="198.11" width="5" height="5.2" fill="#ffff00"/>
<rect x="306.81" y="208.90" width="5" height="5.2" fill="#ffff00"/>
<rect x="316.27" y="223.59" width="5" height="5.2" fill="#ffff00"/>
<rect x="325.72" y="236.66" width="5" height="5.2" fill="#ffff00"/>
<rect x="335.18" y="255.15" width="5" height="5.2" fill="#ffff00"/>
<rect x="344.64" y="273.49" width="5" height="5.2" fill="#ffff00"/>
<rect x="354.09" y="293.70" width="5" height="5.2" fill="#ffff00"/>
<rect x="363.55" y="312.59" width="5" height="5.2" fill="#ffff00"/>
<rect x="373.00" y="336.70" width="5" height="5.2" fill="#ffff00"/>
<ellipse cx="63.46" cy="126.88" rx="2.25" ry="2.5" stroke="#000000" stroke-width="0.9" fill="none" stroke-opacity="0.82"/><path d="M61.86 126.88h3.2" stroke="#000000" stroke-width="0.7" stroke-opacity="0.55"/>
<ellipse cx="72.91" cy="126.88" rx="2.25" ry="2.5" stroke="#000000" stroke-width="0.9" fill="none" stroke-opacity="0.82"/><path d="M71.31 126.88h3.2" stroke="#000000" stroke-width="0.7" stroke-opacity="0.55"/>
<ellipse cx="82.37" cy="126.91" rx="2.25" ry="2.5" stroke="#000000" stroke-width="0.9" fill="none" stroke-opacity="0.82"/><path d="M80.77 126.91h3.2" stroke="#000000" stroke-width="0.7" stroke-opacity="0.55"/>
<ellipse cx="91.82" cy="126.98" rx="2.25" ry="2.5" stroke="#000000" stroke-width="0.9" fill="none" stroke-opacity="0.82"/><path d="M90.22 126.98h3.2" stroke="#000000" stroke-width="0.7" stroke-opacity="0.55"/>
<ellipse cx="101.28" cy="127.13" rx="2.25" ry="2.5" stroke="#000000" stroke-width="0.9" fill="none" stroke-opacity="0.82"/><path d="M99.68 127.13h3.2" stroke="#000000" stroke-width="0.7" stroke-opacity="0.55"/>
<ellipse cx="110.74" cy="127.40" rx="2.25" ry="2.5" stroke="#000000" stroke-width="0.9" fill="none" stroke-opacity="0.82"/><path d="M109.14 127.40h3.2" stroke="#000000" stroke-width="0.7" stroke-opacity="0.55"/>
<ellipse cx="120.19" cy="127.84" rx="2.25" ry="2.5" stroke="#000000" stroke-width="0.9" fill="none" stroke-opacity="0.82"/><path d="M118.59 127.84h3.2" stroke="#000000" stroke-width="0.7" stroke-opacity="0.55"/>
<ellipse cx="129.65" cy="128.52" rx="2.25" ry="2.5" stroke="#000000" stroke-width="0.9" fill="none" stroke-opacity="0.82"/><path d="M128.05 128.52h3.2" stroke="#000000" stroke-width="0.7" stroke-opacity="0.55"/>
<ellipse cx="139.10" cy="129.50" rx="2.25" ry="2.5" stroke="#000000" stroke-width="0.9" fill="none" stroke-opacity="0.82"/><path d="M137.50 129.50h3.2" stroke="#000000" stroke-width="0.7" stroke-opacity="0.55"/>
<ellipse cx="148.56" cy="130.88" rx="2.25" ry="2.5" stroke="#000000" stroke-width="0.9" fill="none" stroke-opacity="0.82"/><path d="M146.96 130.88h3.2" stroke="#000000" stroke-width="0.7" stroke-opacity="0.55"/>
<ellipse cx="158.02" cy="132.73" rx="2.25" ry="2.5" stroke="#000000" stroke-width="0.9" fill="none" stroke-opacity="0.82"/><path d="M156.42 132.73h3.2" stroke="#000000" stroke-width="0.7" stroke-opacity="0.55"/>
<ellipse cx="167.47" cy="135.17" rx="2.25" ry="2.5" stroke="#000000" stroke-width="0.9" fill="none" stroke-opacity="0.82"/><path d="M165.87 135.17h3.2" stroke="#000000" stroke-width="0.7" stroke-opacity="0.55"/>
<ellipse cx="176.93" cy="138.30" rx="2.25" ry="2.5" stroke="#000000" stroke-width="0.9" fill="none" stroke-opacity="0.82"/><path d="M175.33 138.30h3.2" stroke="#000000" stroke-width="0.7" stroke-opacity="0.55"/>
<ellipse cx="186.38" cy="142.24" rx="2.25" ry="2.5" stroke="#000000" stroke-width="0.9" fill="none" stroke-opacity="0.82"/><path d="M184.78 142.24h3.2" stroke="#000000" stroke-width="0.7" stroke-opacity="0.55"/>
<ellipse cx="195.84" cy="147.13" rx="2.25" ry="2.5" stroke="#000000" stroke-width="0.9" fill="none" stroke-opacity="0.82"/><path d="M194.24 147.13h3.2" stroke="#000000" stroke-width="0.7" stroke-opacity="0.55"/>
<ellipse cx="205.30" cy="153.09" rx="2.25" ry="2.5" stroke="#000000" stroke-width="0.9" fill="none" stroke-opacity="0.82"/><path d="M203.70 153.09h3.2" stroke="#000000" stroke-width="0.7" stroke-opacity="0.55"/>
<ellipse cx="214.75" cy="160.28" rx="2.25" ry="2.5" stroke="#000000" stroke-width="0.9" fill="none" stroke-opacity="0.82"/><path d="M213.15 160.28h3.2" stroke="#000000" stroke-width="0.7" stroke-opacity="0.55"/>
<ellipse cx="224.21" cy="168.86" rx="2.25" ry="2.5" stroke="#000000" stroke-width="0.9" fill="none" stroke-opacity="0.82"/><path d="M222.61 168.86h3.2" stroke="#000000" stroke-width="0.7" stroke-opacity="0.55"/>
<ellipse cx="233.66" cy="178.60" rx="2.25" ry="2.5" stroke="#000000" stroke-width="0.9" fill="none" stroke-opacity="0.82"/><path d="M232.06 178.60h3.2" stroke="#000000" stroke-width="0.7" stroke-opacity="0.55"/>
<ellipse cx="243.12" cy="190.47" rx="2.25" ry="2.5" stroke="#000000" stroke-width="0.9" fill="none" stroke-opacity="0.82"/><path d="M241.52 190.47h3.2" stroke="#000000" stroke-width="0.7" stroke-opacity="0.55"/>
<ellipse cx="252.58" cy="204.26" rx="2.25" ry="2.5" stroke="#000000" stroke-width="0.9" fill="none" stroke-opacity="0.82"/><path d="M250.98 204.26h3.2" stroke="#000000" stroke-width="0.7" stroke-opacity="0.55"/>
<ellipse cx="262.03" cy="220.07" rx="2.25" ry="2.5" stroke="#000000" stroke-width="0.9" fill="none" stroke-opacity="0.82"/><path d="M260.43 220.07h3.2" stroke="#000000" stroke-width="0.7" stroke-opacity="0.55"/>
<ellipse cx="271.49" cy="238.30" rx="2.25" ry="2.5" stroke="#000000" stroke-width="0.9" fill="none" stroke-opacity="0.82"/><path d="M269.89 238.30h3.2" stroke="#000000" stroke-width="0.7" stroke-opacity="0.55"/>
<ellipse cx="280.94" cy="258.98" rx="2.25" ry="2.5" stroke="#000000" stroke-width="0.9" fill="none" stroke-opacity="0.82"/><path d="M279.34 258.98h3.2" stroke="#000000" stroke-width="0.7" stroke-opacity="0.55"/>
<ellipse cx="290.40" cy="281.81" rx="2.25" ry="2.5" stroke="#000000" stroke-width="0.9" fill="none" stroke-opacity="0.82"/><path d="M288.80 281.81h3.2" stroke="#000000" stroke-width="0.7" stroke-opacity="0.55"/>
<ellipse cx="299.86" cy="308.65" rx="2.25" ry="2.5" stroke="#000000" stroke-width="0.9" fill="none" stroke-opacity="0.82"/><path d="M298.26 308.65h3.2" stroke="#000000" stroke-width="0.7" stroke-opacity="0.55"/>
<ellipse cx="309.31" cy="338.33" rx="2.25" ry="2.5" stroke="#000000" stroke-width="0.9" fill="none" stroke-opacity="0.82"/><path d="M307.71 338.33h3.2" stroke="#000000" stroke-width="0.7" stroke-opacity="0.55"/>
<circle cx="63.46" cy="126.88" r="2.5" fill="#ff4500"/>
<circle cx="72.91" cy="126.89" r="2.5" fill="#ff4500"/>
<circle cx="82.37" cy="126.94" r="2.5" fill="#ff4500"/>
<circle cx="91.82" cy="127.08" r="2.5" fill="#ff4500"/>
<circle cx="101.28" cy="127.38" r="2.5" fill="#ff4500"/>
<circle cx="110.74" cy="127.91" r="2.5" fill="#ff4500"/>
<circle cx="120.19" cy="128.79" r="2.5" fill="#ff4500"/>
<circle cx="129.65" cy="130.14" r="2.5" fill="#ff4500"/>
<circle cx="139.10" cy="132.11" r="2.5" fill="#ff4500"/>
<circle cx="148.56" cy="134.85" r="2.5" fill="#ff4500"/>
<circle cx="158.02" cy="138.55" r="2.5" fill="#ff4500"/>
<circle cx="167.47" cy="143.41" r="2.5" fill="#ff4500"/>
<circle cx="176.93" cy="149.65" r="2.5" fill="#ff4500"/>
<circle cx="186.38" cy="157.51" r="2.5" fill="#ff4500"/>
<circle cx="195.84" cy="166.84" r="2.5" fill="#ff4500"/>
<circle cx="205.30" cy="178.73" r="2.5" fill="#ff4500"/>
<circle cx="214.75" cy="193.07" r="2.5" fill="#ff4500"/>
<circle cx="224.21" cy="210.37" r="2.5" fill="#ff4500"/>
<circle cx="233.66" cy="230.78" r="2.5" fill="#ff4500"/>
<circle cx="243.12" cy="254.44" r="2.5" fill="#ff4500"/>
<circle cx="252.58" cy="281.93" r="2.5" fill="#ff4500"/>
<circle cx="262.03" cy="313.64" r="2.5" fill="#ff4500"/>
<circle cx="271.49" cy="349.39" r="2.5" fill="#ff4500"/>
<path d="M63.46 124.48L65.66 128.58H61.26Z" stroke="#8c8c8c" stroke-width="0.75" fill="none"/>
<path d="M72.91 124.50L75.11 128.60H70.71Z" stroke="#8c8c8c" stroke-width="0.75" fill="none"/>
<path d="M82.37 124.61L84.57 128.71H80.17Z" stroke="#8c8c8c" stroke-width="0.75" fill="none"/>
<path d="M91.82 124.89L94.02 128.99H89.62Z" stroke="#8c8c8c" stroke-width="0.75" fill="none"/>
<path d="M101.28 125.47L103.48 129.57H99.08Z" stroke="#8c8c8c" stroke-width="0.75" fill="none"/>
<path d="M110.74 126.54L112.94 130.64H108.54Z" stroke="#8c8c8c" stroke-width="0.75" fill="none"/>
<path d="M120.19 128.30L122.39 132.40H117.99Z" stroke="#8c8c8c" stroke-width="0.75" fill="none"/>
<path d="M129.65 131.00L131.85 135.10H127.45Z" stroke="#8c8c8c" stroke-width="0.75" fill="none"/>
<path d="M139.10 134.92L141.30 139.02H136.90Z" stroke="#8c8c8c" stroke-width="0.75" fill="none"/>
<path d="M148.56 140.40L150.76 144.50H146.36Z" stroke="#8c8c8c" stroke-width="0.75" fill="none"/>
<path d="M158.02 147.79L160.22 151.89H155.82Z" stroke="#8c8c8c" stroke-width="0.75" fill="none"/>
<path d="M167.47 157.49L169.67 161.59H165.27Z" stroke="#8c8c8c" stroke-width="0.75" fill="none"/>
<path d="M176.93 169.94L179.13 174.04H174.73Z" stroke="#8c8c8c" stroke-width="0.75" fill="none"/>
<path d="M186.38 185.63L188.58 189.73H184.18Z" stroke="#8c8c8c" stroke-width="0.75" fill="none"/>
<path d="M195.84 205.07L198.04 209.17H193.64Z" stroke="#8c8c8c" stroke-width="0.75" fill="none"/>
<path d="M205.30 228.80L207.50 232.90H203.10Z" stroke="#8c8c8c" stroke-width="0.75" fill="none"/>
<path d="M214.75 257.44L216.95 261.54H212.55Z" stroke="#8c8c8c" stroke-width="0.75" fill="none"/>
<path d="M224.21 291.59L226.41 295.69H222.01Z" stroke="#8c8c8c" stroke-width="0.75" fill="none"/>
<path d="M233.66 331.94L235.86 336.04H231.46Z" stroke="#8c8c8c" stroke-width="0.75" fill="none"/>
<path clip-path="url(#cp)" d="M63.46 126.88L65.35 126.88L67.24 126.88L69.13 126.89L71.02 126.89L72.91 126.90L74.80 126.92L76.69 126.93L78.59 126.95L80.48 126.98L82.37 127.01L84.26 127.05L86.15 127.09L88.04 127.15L89.93 127.21L91.82 127.29L93.72 127.37L95.61 127.47L97.50 127.59L99.39 127.72L101.28 127.87L103.17 128.04L105.06 128.23L106.95 128.44L108.84 128.68L110.74 128.94L112.63 129.23L114.52 129.55L116.41 129.90L118.30 130.28L120.19 130.70L122.08 131.16L123.97 131.65L125.87 132.19L127.76 132.77L129.65 133.40L131.54 134.08L133.43 134.80L135.32 135.59L137.21 136.42L139.10 137.32L141.00 138.28L142.89 139.31L144.78 140.40L146.67 141.56L148.56 142.80L150.45 144.11L152.34 145.50L154.23 146.98L156.12 148.54L158.02 150.19L159.91 151.93L161.80 153.76L163.69 155.70L165.58 157.74L167.47 159.89L169.36 162.14L171.25 164.51L173.15 167.00L175.04 169.61L176.93 172.34L178.82 175.21L180.71 178.20L182.60 181.34L184.49 184.61L186.38 188.03L188.28 191.60L190.17 195.33L192.06 199.21L193.95 203.26L195.84 207.47L197.73 211.85L199.62 216.41L201.51 221.16L203.40 226.09L205.30 231.20L207.19 236.52L209.08 242.04L210.97 247.76L212.86 253.69L214.75 259.84L216.64 266.20L218.53 272.80L220.43 279.62L222.32 286.69L224.21 293.99L226.10 301.54L227.99 309.35L229.88 317.41L231.77 325.74L233.66 334.34L235.56 343.21L237.45 352.37L239.34 361.81L241.23 371.55L243.12 381.58L245.01 391.92L246.90 402.58L248.79 413.55L250.68 424.85L252.58 436.47L254.47 448.44L256.36 460.74L258.25 473.40L260.14 486.41L262.03 499.79L263.92 513.54L265.81 527.66L267.71 542.17L269.60 557.06L271.49 572.36L273.38 588.05L275.27 604.16L277.16 620.69L279.05 637.65L280.94 655.03L282.84 672.86L284.73 691.13L286.62 709.86L288.51 729.05L290.40 748.71L292.29 768.85L294.18 789.48L296.07 810.59L297.96 832.21L299.86 854.34L301.75 876.98L303.64 900.15L305.53 923.85L307.42 948.09L309.31 972.88L311.20 998.23L313.09 1024.14L314.99 1050.62L316.88 1077.69L318.77 1105.35L320.66 1133.61L322.55 1162.47L324.44 1191.95L326.33 1222.06L328.22 1252.80L330.12 1284.18L332.01 1316.21L333.90 1348.91L335.79 1382.27L337.68 1416.32L339.57 1451.05L341.46 1486.47L343.35 1522.61L345.24 1559.46L347.14 1597.03L349.03 1635.34L350.92 1674.39L352.81 1714.20L354.70 1754.76L356.59 1796.11L358.48 1838.23L360.37 1881.14L362.27 1924.86L364.16 1969.39L366.05 2014.74L367.94 2060.93L369.83 2107.96L371.72 2155.83L373.61 2204.58L375.50 2254.19L377.40 2304.69L379.29 2356.08L381.18 2408.37L383.07 2461.59L384.96 2515.72L386.85 2570.79L388.74 2626.81L390.63 2683.79L392.52 2741.73L394.42 2800.66L396.31 2860.57L398.20 2921.49L400.09 2983.41L401.98 3046.37L403.87 3110.35L405.76 3175.39L407.65 3241.48L409.55 3308.63L411.44 3376.87L413.33 3446.20L415.22 3516.64L417.11 3588.19L419.00 3660.86L420.89 3734.68L422.78 3809.64L424.68 3885.77L426.57 3963.07L428.46 4041.56L430.35 4121.24L432.24 4202.14" stroke="#ff0000" stroke-width="0.85" fill="none" stroke-opacity="0.8"/>
</g>
<rect x="54.0" y="32.0" width="472.79999999999995" height="317.85" fill="none" stroke="#383838" stroke-width="1.35"/>
<path d="M54.0 63.78h4.8M526.8 63.78h-4.8M54.0 127.36h4.8M526.8 127.36h-4.8M54.0 190.93h4.8M526.8 190.93h-4.8M54.0 254.50h4.8M526.8 254.50h-4.8M54.0 318.06h4.8M526.8 318.06h-4.8M148.56 349.85v-4.8M148.56 32.0v4.8M243.12 349.85v-4.8M243.12 32.0v4.8M337.68 349.85v-4.8M337.68 32.0v4.8M432.24 349.85v-4.8M432.24 32.0v4.8" stroke="#383838" stroke-width="1.1" fill="none"/>
<text transform="translate(477.70,45.60) rotate(0.03) scale(1,0.98)" text-anchor="end">1.00</text>
<path d="M483.2 41.7H514.6" stroke="#ff0000" stroke-width="0.9" fill="none" stroke-opacity="0.62"/>
<path d="M483.2 39.300000000000004v4.8M514.6 39.300000000000004v4.8" stroke="#ff0000" stroke-width="0.9" fill="none" stroke-opacity="0.56"/>
<path d="M496.40 41.70H501.40M498.90 39.20V44.20" stroke="#ff0000" stroke-width="0.9" fill="none" stroke-opacity="0.8"/>
<text transform="translate(425.10,56.90) rotate(0.03) scale(1,0.98)" text-anchor="start">fit for m</text>
<text transform="translate(460.70,51.60) rotate(0.03) scale(1,0.98)" text-anchor="start" style="font-size:9.0px">2</text>
<text transform="translate(477.70,56.90) rotate(0.03) scale(1,0.98)" text-anchor="end">=1</text>
<path d="M483.2 52.5H514.6" stroke="#00ff00" stroke-width="0.9" fill="none" stroke-dasharray="3.3 1.3" stroke-opacity="0.7"/>
<text transform="translate(477.70,67.10) rotate(0.03) scale(1,0.98)" text-anchor="end">4.00</text>
<path d="M483.2 63.2H514.6" stroke="#0000ff" stroke-width="0.9" fill="none" stroke-dasharray="1.7 2.1" stroke-opacity="0.5"/>
<path d="M483.2 60.800000000000004v4.8M514.6 60.800000000000004v4.8" stroke="#0000ff" stroke-width="0.9" fill="none" stroke-opacity="0.45" stroke-dasharray="1.7 2.1"/>
<path d="M496.65 60.95L501.15 65.45M496.65 65.45L501.15 60.95" stroke="#0000ff" stroke-width="0.98" fill="none" stroke-opacity="0.82"/>
<text transform="translate(477.70,77.70) rotate(0.03) scale(1,0.98)" text-anchor="end">5.00</text>
<path d="M483.2 73.8H514.6" stroke="#ff00ff" stroke-width="0.9" fill="none" stroke-dasharray="0.9 1.0" stroke-opacity="0.6"/>
<path d="M483.2 71.39999999999999v4.8M514.6 71.39999999999999v4.8" stroke="#ff00ff" stroke-width="0.9" fill="none" stroke-opacity="0.54" stroke-dasharray="0.9 1.0"/>
<path d="M496.40 71.30L501.40 76.30M496.40 76.30L501.40 71.30M496.40 73.80H501.40M498.90 71.30V76.30" stroke="#ff00ff" stroke-width="0.9" fill="none" stroke-opacity="0.85"/>
<text transform="translate(477.70,88.30) rotate(0.03) scale(1,0.98)" text-anchor="end">10.0</text>
<path d="M483.2 84.4H514.6" stroke="#00ffff" stroke-width="0.9" fill="none" stroke-dasharray="4 1.3 1 1.3" stroke-opacity="0.68"/>
<path d="M483.2 82.0v4.8M514.6 82.0v4.8" stroke="#00ffff" stroke-width="0.9" fill="none" stroke-opacity="0.61" stroke-dasharray="4 1.3 1 1.3"/>
<rect x="496.50" y="81.90" width="4.8" height="5" stroke="#00ffff" stroke-width="0.75" fill="none" stroke-opacity="0.85"/><path d="M497.40 83.60h3M497.40 85.20h3" stroke="#00ffff" stroke-width="0.45" stroke-opacity="0.7"/>
<text transform="translate(477.70,98.90) rotate(0.03) scale(1,0.98)" text-anchor="end">20.0</text>
<path d="M483.2 95.0H514.6" stroke="#ffff00" stroke-width="0.9" fill="none" stroke-dasharray="4 1.3 1 1.3" stroke-opacity="0.6"/>
<path d="M483.2 92.6v4.8M514.6 92.6v4.8" stroke="#ffff00" stroke-width="0.9" fill="none" stroke-opacity="0.54" stroke-dasharray="4 1.3 1 1.3"/>
<rect x="496.40" y="92.40" width="5" height="5.2" fill="#ffff00"/>
<text transform="translate(477.70,109.60) rotate(0.03) scale(1,0.98)" text-anchor="end">50.0</text>
<path d="M483.2 105.7H514.6" stroke="#000000" stroke-width="0.9" fill="none" stroke-dasharray="2.2 1.6" stroke-opacity="0.6"/>
<path d="M483.2 103.3v4.8M514.6 103.3v4.8" stroke="#000000" stroke-width="0.9" fill="none" stroke-opacity="0.54" stroke-dasharray="2.2 1.6"/>
<ellipse cx="498.90" cy="105.70" rx="2.25" ry="2.5" stroke="#000000" stroke-width="0.9" fill="none" stroke-opacity="0.82"/><path d="M497.30 105.70h3.2" stroke="#000000" stroke-width="0.7" stroke-opacity="0.55"/>
<text transform="translate(477.70,120.20) rotate(0.03) scale(1,0.98)" text-anchor="end">100.</text>
<path d="M483.2 116.3H514.6" stroke="#ff4500" stroke-width="0.9" fill="none" stroke-dasharray="1.6 1.6" stroke-opacity="0.6"/>
<path d="M483.2 113.89999999999999v4.8M514.6 113.89999999999999v4.8" stroke="#ff4500" stroke-width="0.9" fill="none" stroke-opacity="0.54" stroke-dasharray="1.6 1.6"/>
<circle cx="498.90" cy="116.30" r="2.5" fill="#ff4500"/>
<text transform="translate(477.70,130.80) rotate(0.03) scale(1,0.98)" text-anchor="end">200.</text>
<path d="M483.2 126.9H514.6" stroke="#8c8c8c" stroke-width="0.9" fill="none" stroke-dasharray="1.5 1.5" stroke-opacity="0.7"/>
<path d="M483.2 124.5v4.8M514.6 124.5v4.8" stroke="#8c8c8c" stroke-width="0.9" fill="none" stroke-opacity="0.63" stroke-dasharray="1.5 1.5"/>
<path d="M498.90 124.50L501.10 128.60H496.70Z" stroke="#8c8c8c" stroke-width="0.75" fill="none"/>
<text transform="translate(413.00,142.00) rotate(0.03) scale(1,0.98)" text-anchor="start">fit for m</text>
<text transform="translate(448.80,136.70) rotate(0.03) scale(1,0.98)" text-anchor="start" style="font-size:9.0px">2</text>
<text transform="translate(477.70,142.00) rotate(0.03) scale(1,0.98)" text-anchor="end">=200</text>
<path d="M483.8 137.6H514.2" stroke="#ff0000" stroke-width="0.9" fill="none" stroke-opacity="0.62"/>
</svg></body></html>
